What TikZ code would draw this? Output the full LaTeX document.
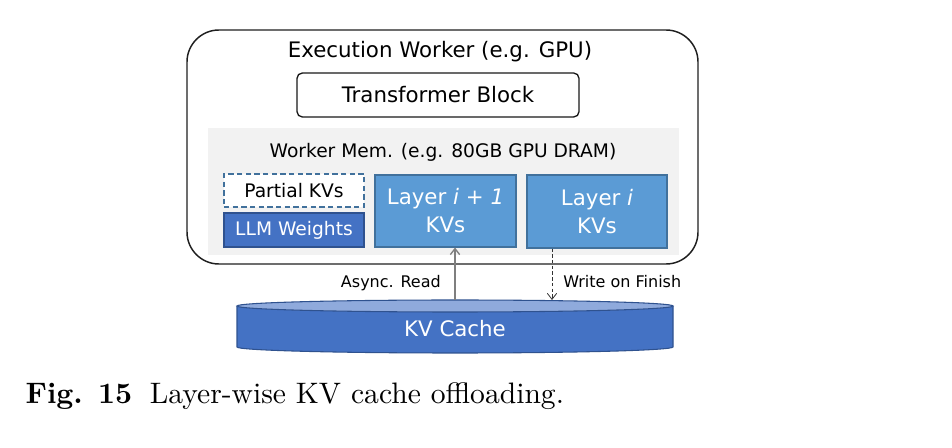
\documentclass[tikz,border=0pt]{standalone}
\usepackage{fontspec}
\newfontfamily\dejavu{DejaVu Sans}
\usetikzlibrary{arrows.meta}
\definecolor{memgray}{HTML}{F2F2F2}
\definecolor{kvfill}{HTML}{5B9BD5}
\definecolor{kvborder}{HTML}{41719C}
\definecolor{wfill}{HTML}{4472C4}
\definecolor{wborder}{HTML}{2F528F}
\definecolor{captop}{HTML}{8FAADC}
\definecolor{readgray}{HTML}{7F7F7F}
\tikzset{
  txtbig/.style={inner sep=0pt, font=\dejavu\fontsize{16}{21}\selectfont},
  txtmid/.style={inner sep=0pt, font=\dejavu\fontsize{14}{18}\selectfont},
  txtsmall/.style={inner sep=0pt, font=\dejavu\fontsize{12}{15}\selectfont},
  outerbox/.style={draw=black!88, line width=1.1pt, rounded corners=24pt, inner sep=0pt},
  tbox/.style={txtbig, draw=black!90, line width=1pt, rounded corners=4pt, fill=white},
  memarea/.style={fill=memgray, draw=none, inner sep=0pt},
  partialbox/.style={txtmid, draw=kvborder, fill=white, line width=0.8pt, dash pattern=on 4pt off 2.5pt},
  weightbox/.style={txtmid, draw=wborder, fill=wfill, line width=0.8pt, text=white},
  kvbox/.style={txtbig, draw=kvborder, fill=kvfill, line width=0.8pt, text=white, align=center},
  readarrow/.style={draw=readgray, line width=1pt, -{Straight Barb[length=4.5pt,width=7pt]}},
  writearrow/.style={draw=black!80, line width=0.6pt, dash pattern=on 2.5pt off 1.8pt, -{Straight Barb[length=4.5pt,width=7pt]}},
  caption/.style={inner sep=0pt, anchor=base west, font=\fontsize{10}{12}\selectfont, scale=2.22}
}
\begin{document}
\begin{tikzpicture}[x=0.75pt,y=-0.75pt]
\useasboundingbox[fill=white] (0,0) rectangle (952,448);
% outer worker box
\node[outerbox, minimum width=511*0.75pt, minimum height=234*0.75pt] (worker) at (442.5,147) {};
\node[txtbig, anchor=base] (wtitle) at (440,58) {Execution Worker (e.g. GPU)};
\node[tbox, minimum width=282*0.75pt, minimum height=44*0.75pt] (tblock) at (438,95) {Transformer Block};
% memory area
\node[memarea, minimum width=471*0.75pt, minimum height=127*0.75pt] (mem) at (443.5,191.5) {};
\node[txtmid, anchor=base] (memtitle) at (443,158) {Worker Mem. (e.g. 80GB GPU DRAM)};
\node[partialbox, minimum width=140*0.75pt, minimum height=33*0.75pt] (partial) at (294,190.5) {Partial KVs};
\node[weightbox, minimum width=140*0.75pt, minimum height=34*0.75pt] (weights) at (294,230) {LLM Weights};
\node[kvbox, minimum width=141*0.75pt, minimum height=72*0.75pt] (L1) at (445.5,211) {Layer \textit{i} + \textit{1}\\KVs};
\node[kvbox, minimum width=140*0.75pt, minimum height=73*0.75pt] (L0) at (597,211.5) {Layer \textit{i}\\KVs};
% KV cache cylinder
\path[fill=wfill, draw=wborder, line width=0.8pt] (237,306) -- (237,347) arc[start angle=180, end angle=0, x radius=218, y radius=6] -- (673,306);
\draw[fill=captop, draw=wborder, line width=0.8pt] (455,306) ellipse[x radius=218, y radius=6];
\node[txtbig, text=white] (cache) at (455,329) {KV Cache};
\coordinate (readend) at (455,300);
\coordinate (writeend) at (552,300);
% connectors
\draw[readarrow] (readend) -- (L1.south -| readend);
\draw[writearrow] (L0.south -| writeend) -- (writeend);
\node[txtsmall, anchor=base east] (readlbl) at (441,288) {Async. Read};
\node[txtsmall, anchor=base west] (writelbl) at (563,288) {Write on Finish};
% caption
\node[caption] (cap) at (25,403) {\textbf{Fig. 15}\hspace{0.6em}Layer-wise KV cache offloading.};
\end{tikzpicture}
\end{document}
